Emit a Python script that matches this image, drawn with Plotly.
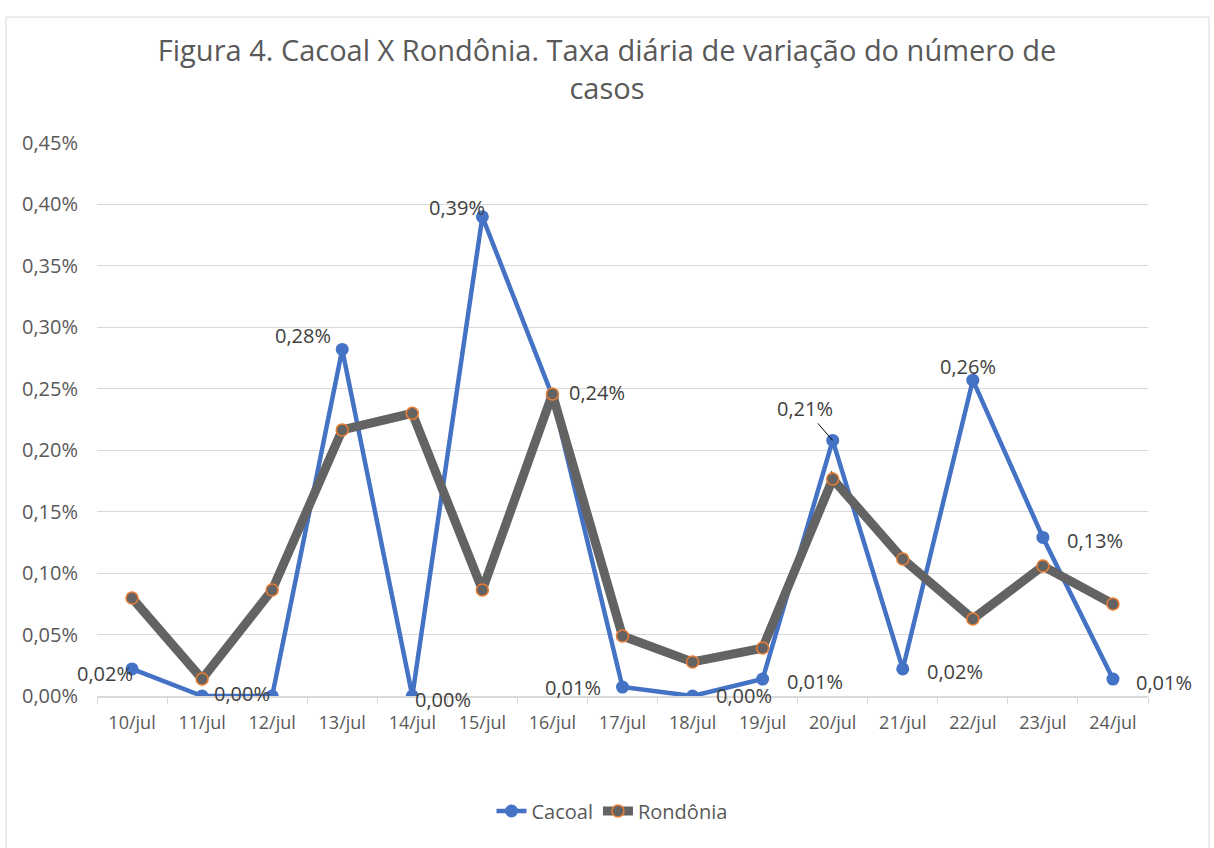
import plotly.graph_objects as go

categories = ["10/jul", "11/jul", "12/jul", "13/jul", "14/jul", "15/jul", "16/jul", "17/jul",
              "18/jul", "19/jul", "20/jul", "21/jul", "22/jul", "23/jul", "24/jul"]
cacoal = [0.00022, 0.0, 0.0, 0.00282, 0.0, 0.00390, 0.00244, 0.000073,
          0.0, 0.000138, 0.00208, 0.00022, 0.00257, 0.00129, 0.000138]
rondonia = [0.000797, 0.000138, 0.000863, 0.002165, 0.00230, 0.000863, 0.002457, 0.000488,
            0.000277, 0.00039, 0.001766, 0.001115, 0.000627, 0.001058, 0.000749]

# label offsets (pixels) for Cacoal data labels; None = no label
label_offsets = [(-27, -5), (40, 3), None, (-39, 14), (31, -3), (-25, 9), (45, 4), (-50, 0),
                 (51, 1), (52, -2), None, (52, -3), (-5, 14), (52, -3), (51, -3)]

FONT = "Open Sans"
fig = go.Figure()
fig.add_trace(go.Scatter(
    x=categories, y=cacoal, name="Cacoal", mode="lines+markers",
    line=dict(color="#4472C4", width=4.5),
    marker=dict(color="#4472C4", size=13),
))
fig.add_trace(go.Scatter(
    x=categories, y=rondonia, name="Rondônia", mode="lines+markers",
    line=dict(color="#636363", width=9),
    marker=dict(color="#636363", size=12, line=dict(color="#ED7D31", width=1.5)),
))

def fmt(v):
    return f"{v*100:.2f}%".replace(".", ",")

for cat, v, off in zip(categories, cacoal, label_offsets):
    if off is None:
        continue
    fig.add_annotation(x=cat, y=v, xref="x", yref="y", text=fmt(v), showarrow=False,
                       xshift=off[0], yshift=off[1],
                       font=dict(family=FONT, size=20, color="#404040"))

# 20/jul label with leader line
i20 = categories.index("20/jul")
fig.add_annotation(x=categories[i20], y=cacoal[i20], xref="x", yref="y", text=fmt(cacoal[i20]),
                   showarrow=True, arrowhead=0, arrowwidth=1, arrowcolor="black",
                   ax=-28, ay=-32, standoff=0,
                   font=dict(family=FONT, size=20, color="#404040"))

fig.add_shape(type="rect", xref="paper", yref="paper",
              x0=-0.0866, x1=1.058, y0=-0.29, y1=1.2278,
              line=dict(color="#d9d9d9", width=1), fillcolor="rgba(0,0,0,0)")

fig.update_layout(
    width=1214, height=848,
    margin=dict(l=97, r=66, t=143, b=152, autoexpand=False),
    paper_bgcolor="white", plot_bgcolor="white",
    separators=",.",
    title=dict(text="Figura 4. Cacoal X Rondônia. Taxa diária de variação do número de<br>casos",
               x=0.5, xref="container", xanchor="center", y=0.928, yanchor="middle",
               font=dict(family=FONT, size=29, color="#595959")),
    font=dict(family=FONT, color="#595959"),
    showlegend=True,
    legend=dict(orientation="h", x=0.49, xanchor="center",
                y=-0.208, yanchor="middle", font=dict(family=FONT, size=20, color="#595959")),
    xaxis=dict(type="category", range=[-0.5, len(categories) - 0.5],
               showgrid=False, showline=True, linecolor="#d9d9d9", linewidth=1.5,
               ticks="outside", tickson="boundaries", ticklen=6, tickcolor="#d9d9d9",
               tickangle=0, automargin=False, ticklabelstandoff=10,
               tickfont=dict(family=FONT, size=18, color="#595959")),
    yaxis=dict(range=[0, 0.0045], dtick=0.0005, tickformat=".2%", showgrid=True,
               gridcolor="#d9d9d9", gridwidth=1, zeroline=False, showline=False,
               automargin=False, ticklabelstandoff=18,
               tickfont=dict(family=FONT, size=20, color="#595959")),
)

fig.write_html("out.html", config={"displayModeBar": False},
               post_script="document.body.style.margin='0';document.body.style.overflow='hidden';")
